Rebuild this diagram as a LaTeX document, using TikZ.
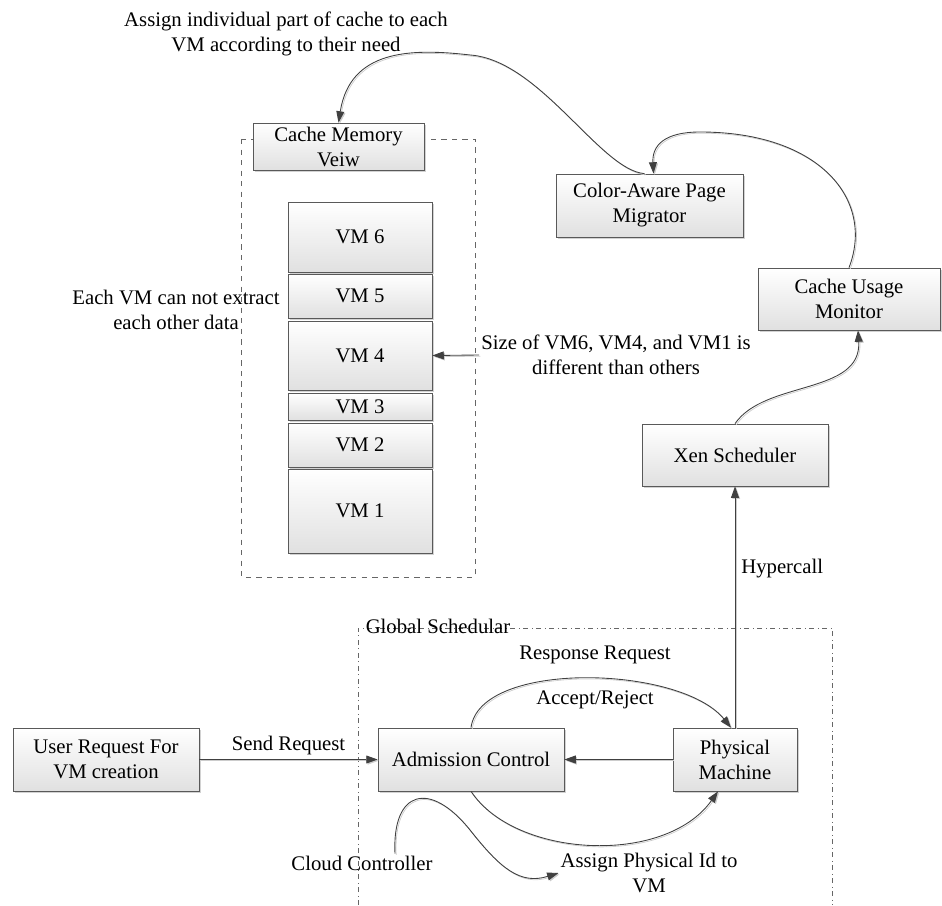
\documentclass[tikz,border=0pt]{standalone}
\usepackage{fontspec}
\setmainfont{Liberation Serif}
\usetikzlibrary{arrows.meta,shadows}

\begin{document}
\begin{tikzpicture}[x=0.02cm,y=-0.02cm,
  every node/.style={font=\fontsize{11.8}{14.2}\selectfont},
  blk/.style={draw=black!65, top color=white, bottom color=black!12,
    drop shadow={shadow xshift=1.2pt,shadow yshift=-1.2pt,fill=black!35},
    align=center, inner sep=1pt},
  vmbox/.style={blk, minimum width=2.88cm},
  txt/.style={align=center, inner sep=1pt},
  conn/.style={draw=black!75, line width=0.5pt, -{Triangle[length=6.5pt,width=4.5pt]},
    preaction={draw=black!20, transform canvas={shift={(0.7pt,-0.7pt)}}}}]
\useasboundingbox (0,0) rectangle (942,905);

% cache memory view
\draw[dashed, black!60] (241,139) rectangle (475,577);
\node[blk, minimum width=3.42cm, minimum height=0.94cm] (cachev) at (338.5,146.5) {Cache Memory\\Veiw};
\foreach \n/\cy/\h in {6/237/1.40, 5/296/0.88, 4/355.5/1.38, 3/406.5/0.54, 2/445/0.88, 1/511/1.68}
  \node[vmbox, minimum height=\h cm] (vm\n) at (360,\cy) {VM \n};

\node[txt] (title) at (286,34) {Assign individual part of cache to each\\VM according to their need};
\node[txt] (isol) at (176,310) {Each VM can not extract\\each other data};
\node[txt] (sizes) at (616,355) {Size of VM6, VM4, and VM1 is\\different than others};

% monitoring side
\node[blk, minimum width=3.74cm, minimum height=1.26cm] (migr) at (649.5,205.5) {Color-Aware Page\\Migrator};
\node[blk, minimum width=3.64cm, minimum height=1.24cm] (usage) at (849,299) {Cache Usage\\Monitor};
\node[blk, minimum width=3.72cm, minimum height=1.24cm] (xen) at (735,455) {Xen Scheduler};

% global schedular
\draw[dash dot, black!60] (358,905) -- (358,628) -- (832,628) -- (832,905);
\node[txt] (glab) at (438,626) {Global Schedular};
\node[blk, minimum width=3.72cm, minimum height=1.26cm] (user) at (106,759.5) {User Request For\\VM creation};
\node[blk, minimum width=3.72cm, minimum height=1.26cm] (adm) at (471,759.5) {Admission Control};
\node[blk, minimum width=2.48cm, minimum height=1.26cm] (phys) at (735,759.5) {Physical\\Machine};
\node[txt] (resp) at (595,655) {Response Request};
\node[txt] (acc) at (595,700) {Accept/Reject};
\node[txt] (cloud) at (362,863) {Cloud Controller};
\node[txt] (assign) at (649,873) {Assign Physical Id to\\VM};

% connectors
\draw[conn] (sizes.west) -- (vm4.east);
\draw[conn] ([xshift=-0.1cm]migr.north) .. controls (600,170) and (540,60) .. (470,55)
  .. controls (410,48) and (350,50) .. (cachev.north);
\draw[conn] (usage.north) .. controls (875,200) and (820,132) .. (700,132)
  .. controls (665,132) and (652,145) .. ([xshift=0.08cm]migr.north);
\draw[conn] (xen.north) .. controls (765,380) and (862,395) .. ([xshift=0.18cm]usage.south);
\draw[conn] (phys.north) -- node[right, pos=0.66] (hyp) {Hypercall} (xen.south);
\draw[conn] (user.east) -- node[midway, above=-1pt] (sendlbl) {Send Request} (adm.west);
\draw[conn] (adm.north) .. controls (480,660) and (680,665) .. ([xshift=-0.08cm]phys.north);
\draw[conn] (phys.west) -- (adm.east);
\draw[conn] (adm.south) .. controls (515,858) and (665,866) .. ([xshift=-0.34cm]phys.south);
\draw[conn] ([xshift=0.66cm]cloud.north) .. controls (392,790) and (430,780) .. (470,830)
  .. controls (500,868) and (520,885) .. (assign.west);
\end{tikzpicture}
\end{document}
